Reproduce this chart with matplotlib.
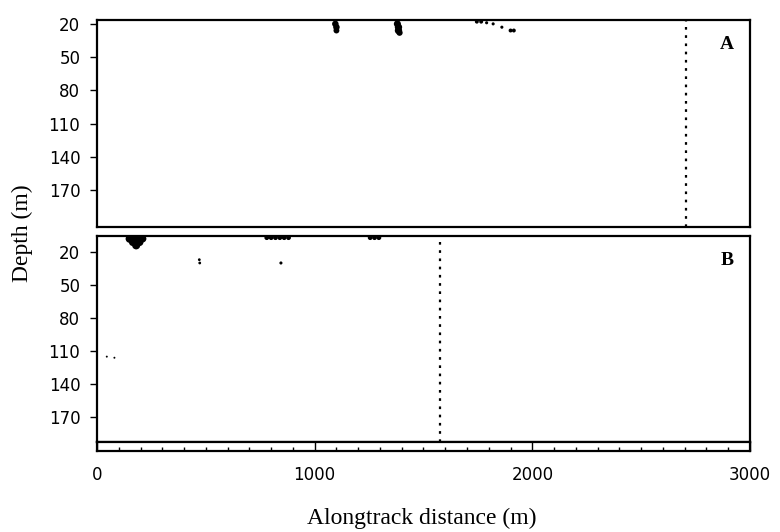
import matplotlib
matplotlib.use('Agg')
import matplotlib.pyplot as plt
from matplotlib.ticker import MultipleLocator

# Echo-sounder school detections (alongtrack distance in m, depth in m, marker size)
a_dist = [1095, 1100, 1100, 1380, 1385, 1385, 1390, 1745, 1765, 1790, 1820, 1860, 1900, 1915]
a_depth = [20, 23, 26, 20, 23, 26, 28, 18, 18, 19, 20, 23, 26, 26]
a_size = [22, 22, 18, 26, 28, 28, 20, 8, 8, 5, 5, 5, 8, 8]

b_dist = [150, 165, 180, 195, 210, 160, 185, 175, 470, 472, 780, 800, 820, 840, 860, 880, 845, 1255, 1275, 1295, 45, 80]
b_depth = [8, 11, 14, 11, 8, 7, 7, 10, 27, 30, 7, 7, 7, 7, 7, 7, 30, 7, 7, 7, 115, 116]
b_size = [34, 34, 34, 34, 28, 34, 34, 34, 4, 4, 12, 12, 12, 12, 12, 12, 5, 12, 12, 12, 2, 2]

a_track_end = 2705
b_track_end = 1575

depth_ticks = [20, 50, 80, 110, 140, 170]
dist_ticks = [0, 1000, 2000, 3000]
panel_names = ['A', 'B']

W, H = 780, 532
fig = plt.figure(figsize=(W / 100, H / 100), dpi=100)

def px_axes(x0, y0, x1, y1):
    return fig.add_axes([x0 / W, 1 - y1 / H, (x1 - x0) / W, (y1 - y0) / H])

ax_a = px_axes(97, 20, 750, 227)
ax_b = px_axes(97, 236, 750, 442)
ax_x = px_axes(97, 442, 750, 451)

panels = [
    (ax_a, a_dist, a_depth, a_size, a_track_end, (203.5, 16.5)),
    (ax_b, b_dist, b_depth, b_size, b_track_end, (192.5, 5.5)),
]

for (ax, dist, depth, size, track_end, ylim), name in zip(panels, panel_names):
    ax.scatter(dist, depth, s=size, c='black', marker='o', linewidths=0)
    ax.axvline(track_end, color='black', linestyle=(0, (1.2, 2.5)), linewidth=1.6)
    ax.set_xlim(0, 3000)
    ax.set_ylim(*ylim)
    ax.set_yticks(depth_ticks)
    ax.set_yticklabels([str(t) for t in depth_ticks], fontsize=12)
    ax.tick_params(axis='y', direction='out', length=5, width=1, pad=7)
    ax.set_xticks([])
    for sp in ax.spines.values():
        sp.set_linewidth(1.6)
    ax.text(0.975, 0.88, name, transform=ax.transAxes, ha='right', va='center',
            fontsize=14, fontweight='bold', family='Liberation Serif')

ax_x.set_xlim(0, 3000)
ax_x.set_ylim(0, 1)
ax_x.set_yticks([])
ax_x.set_xticks(dist_ticks)
ax_x.set_xticklabels([str(t) for t in dist_ticks], fontsize=12)
ax_x.xaxis.set_minor_locator(MultipleLocator(100))
ax_x.tick_params(axis='x', which='major', direction='in', length=6.5, width=1, pad=11)
ax_x.tick_params(axis='x', which='minor', direction='in', length=3, width=1)
for sp in ax_x.spines.values():
    sp.set_linewidth(1.6)

fig.text(22 / W, 1 - 233 / H, 'Depth (m)', rotation=90, ha='center', va='center',
         fontsize=17, family='Liberation Serif')
fig.text(422 / W, 1 - 518 / H, 'Alongtrack distance (m)', ha='center', va='center',
         fontsize=17, family='Liberation Serif')

fig.savefig('out.png', dpi=100)
